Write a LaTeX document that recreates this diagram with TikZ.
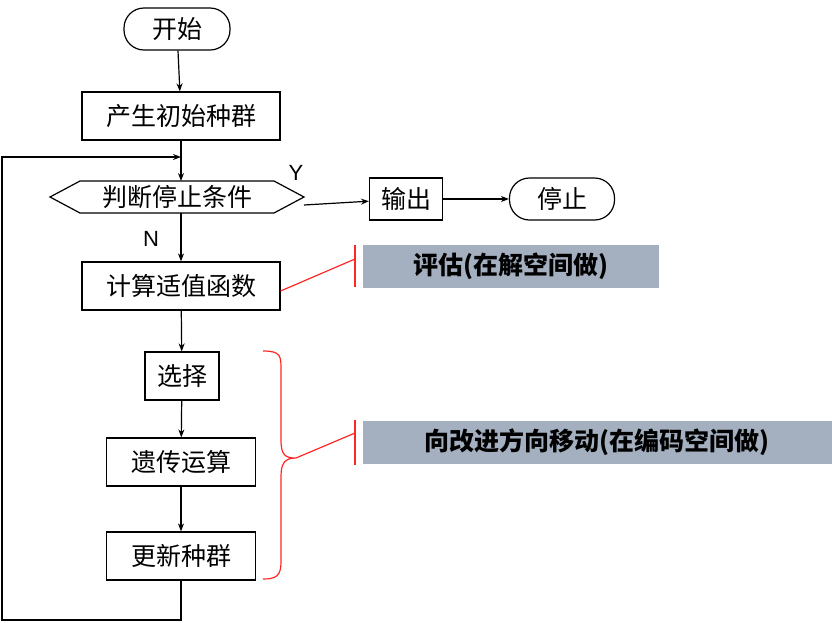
\documentclass[tikz,border=0pt]{standalone}
\usepackage{fontspec}
\setmainfont{Liberation Sans}
\newfontfamily\cjk{Noto Sans CJK SC}
\usetikzlibrary{arrows.meta,decorations.pathreplacing}
\begin{document}
\begin{tikzpicture}[x=1pt,y=-1pt,line width=1.2pt,
  box/.style={draw,minimum height=48pt,font=\cjk\fontsize{25}{28}\selectfont,inner sep=0pt},
  rbox/.style={box,rounded corners=20pt},
  arr/.style={-{Stealth[length=8pt,width=6pt]}},
  note/.style={font=\cjk\bfseries\fontsize{25}{28}\selectfont,inner sep=0pt,minimum height=43pt},
  red/.style={draw=red!85!white,line width=1.2pt}]
\useasboundingbox (0,0) rectangle (832,622);
\definecolor{ng}{RGB}{164,176,192}
\node[rbox,minimum width=106pt,minimum height=42pt] (start) at (177,29) {开始};
\node[box,minimum width=198pt] (init) at (181,116) {产生初始种群};
\coordinate (loopin) at (181,157);
\node[font=\cjk\fontsize{25}{28}\selectfont] (judge) at (177,197) {判断停止条件};
\draw (50,197) -- (80,181) -- (274,181) -- (304,197) -- (274,213) -- (80,213) -- cycle;
\coordinate (jr) at (304,205);
\node[box,minimum width=73pt,minimum height=42pt] (out) at (406,199) {输出};
\node[rbox,minimum width=105pt,minimum height=42pt] (stop) at (562,199) {停止};
\node[box,minimum width=198pt] (fit) at (181,286) {计算适值函数};
\node[box,minimum width=74pt] (sel) at (182,376) {选择};
\node[box,minimum width=149pt] (gen) at (181,462) {遗传运算};
\node[box,minimum width=149pt] (upd) at (181,556) {更新种群};
\node[font=\fontsize{22}{24}\selectfont] (Y) at (296,173) {Y};
\node[font=\fontsize{22}{24}\selectfont] (N) at (151,239) {N};
\draw[arr] (start) -- (init);
\draw (init) -- (loopin);
\draw[arr] (loopin) -- (181,181);
\draw[arr] (181,213) -- (fit);
\draw[arr] (jr) -- (out);
\draw[arr] (out) -- (stop);
\draw[arr] (fit) -- (sel);
\draw[arr] (sel) -- (gen);
\draw[arr] (gen) -- (upd);
\draw[arr] (upd.south) -- (181,620) -- (2,620) -- (2,157) -- (loopin);
\node[note,fill=ng,minimum width=296pt] (n1) at (511,266) {评估(在解空间做)};
\node[note,fill=ng,minimum width=469pt] (n2) at (597,442) {向改进方向移动(在编码空间做)};
\draw[red] (355,245) -- (355,287);
\draw[red] (355,420) -- (355,465);
\draw[red] (fit.east|-0,291) -- (355,259);
\draw[red] (263,351) .. controls (281,351) and (281,356) .. (281,370) -- (281,440) .. controls (281,456) and (286,458) .. (296,458)
  .. controls (286,458) and (281,462) .. (281,476) -- (281,562) .. controls (281,576) and (276,579) .. (263,579);
\draw[red] (296,458) -- (355,433);
\end{tikzpicture}
\end{document}
